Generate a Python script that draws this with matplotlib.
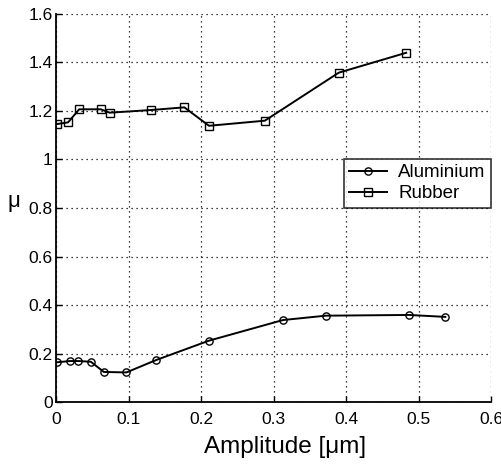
import matplotlib
matplotlib.use("Agg")
import matplotlib.pyplot as plt
from matplotlib.ticker import FuncFormatter

plt.rcParams['font.family'] = ['Liberation Sans', 'DejaVu Sans']

# Friction coefficient vs vibration amplitude
al_amp = [0.002, 0.019, 0.031, 0.048, 0.066, 0.097, 0.138, 0.211, 0.313, 0.372, 0.487, 0.537]
al_mu = [0.164, 0.169, 0.169, 0.166, 0.124, 0.122, 0.173, 0.253, 0.338, 0.356, 0.359, 0.351]

rb_amp = [0.001, 0.0166, 0.032, 0.0616, 0.074, 0.131, 0.177, 0.211, 0.288, 0.390, 0.483]
rb_mu = [1.146, 1.153, 1.207, 1.207, 1.193, 1.204, 1.215, 1.139, 1.160, 1.358, 1.440]

x_ticks = [0, 0.1, 0.2, 0.3, 0.4, 0.5, 0.6]
y_ticks = [0, 0.2, 0.4, 0.6, 0.8, 1.0, 1.2, 1.4, 1.6]

fig = plt.figure(figsize=(5.02, 4.66), dpi=100)
ax = fig.add_axes([0.1116, 0.1373, 0.8665, 0.8327])

ax.plot(al_amp, al_mu, '-o', color='black', lw=1.4, ms=5.2,
        mfc='none', mec='black', mew=1.0, label='Aluminium')
ax.plot(rb_amp, rb_mu, '-s', color='black', lw=1.4, ms=5.2,
        mfc='none', mec='black', mew=1.0, label='Rubber')

ax.set_xlim(0, 0.6)
ax.set_ylim(0, 1.6)
ax.set_xticks(x_ticks)
ax.set_yticks(y_ticks)
fmt = FuncFormatter(lambda v, p: '%g' % round(v, 2))
ax.xaxis.set_major_formatter(fmt)
ax.yaxis.set_major_formatter(fmt)

ax.grid(True, linestyle=(0, (1, 3)), color='black', lw=0.9)
ax.spines['top'].set_visible(False)
ax.spines['right'].set_visible(False)
ax.spines['left'].set_linewidth(1.3)
ax.spines['bottom'].set_linewidth(1.3)
ax.tick_params(direction='in', length=4, width=1.0, labelsize=12.5)
ax.tick_params(axis='x', pad=7)
ax.tick_params(axis='y', pad=2.5)

ax.set_xlabel('Amplitude [μm]', fontsize=17.5)
ax.xaxis.set_label_coords(0.526, -0.087)
ax.set_ylabel('μ', fontsize=16, rotation=0)
ax.yaxis.set_label_coords(-0.097, 0.49)

leg = ax.legend(loc='upper right', bbox_to_anchor=(1.0, 0.627), borderaxespad=0,
                fontsize=13.5, frameon=True, fancybox=False, handlelength=2.0,
                handletextpad=0.6, borderpad=0.3, labelspacing=0.2)
leg.get_frame().set_edgecolor('black')
leg.get_frame().set_linewidth(1.2)

fig.savefig('out.png', dpi=100)
